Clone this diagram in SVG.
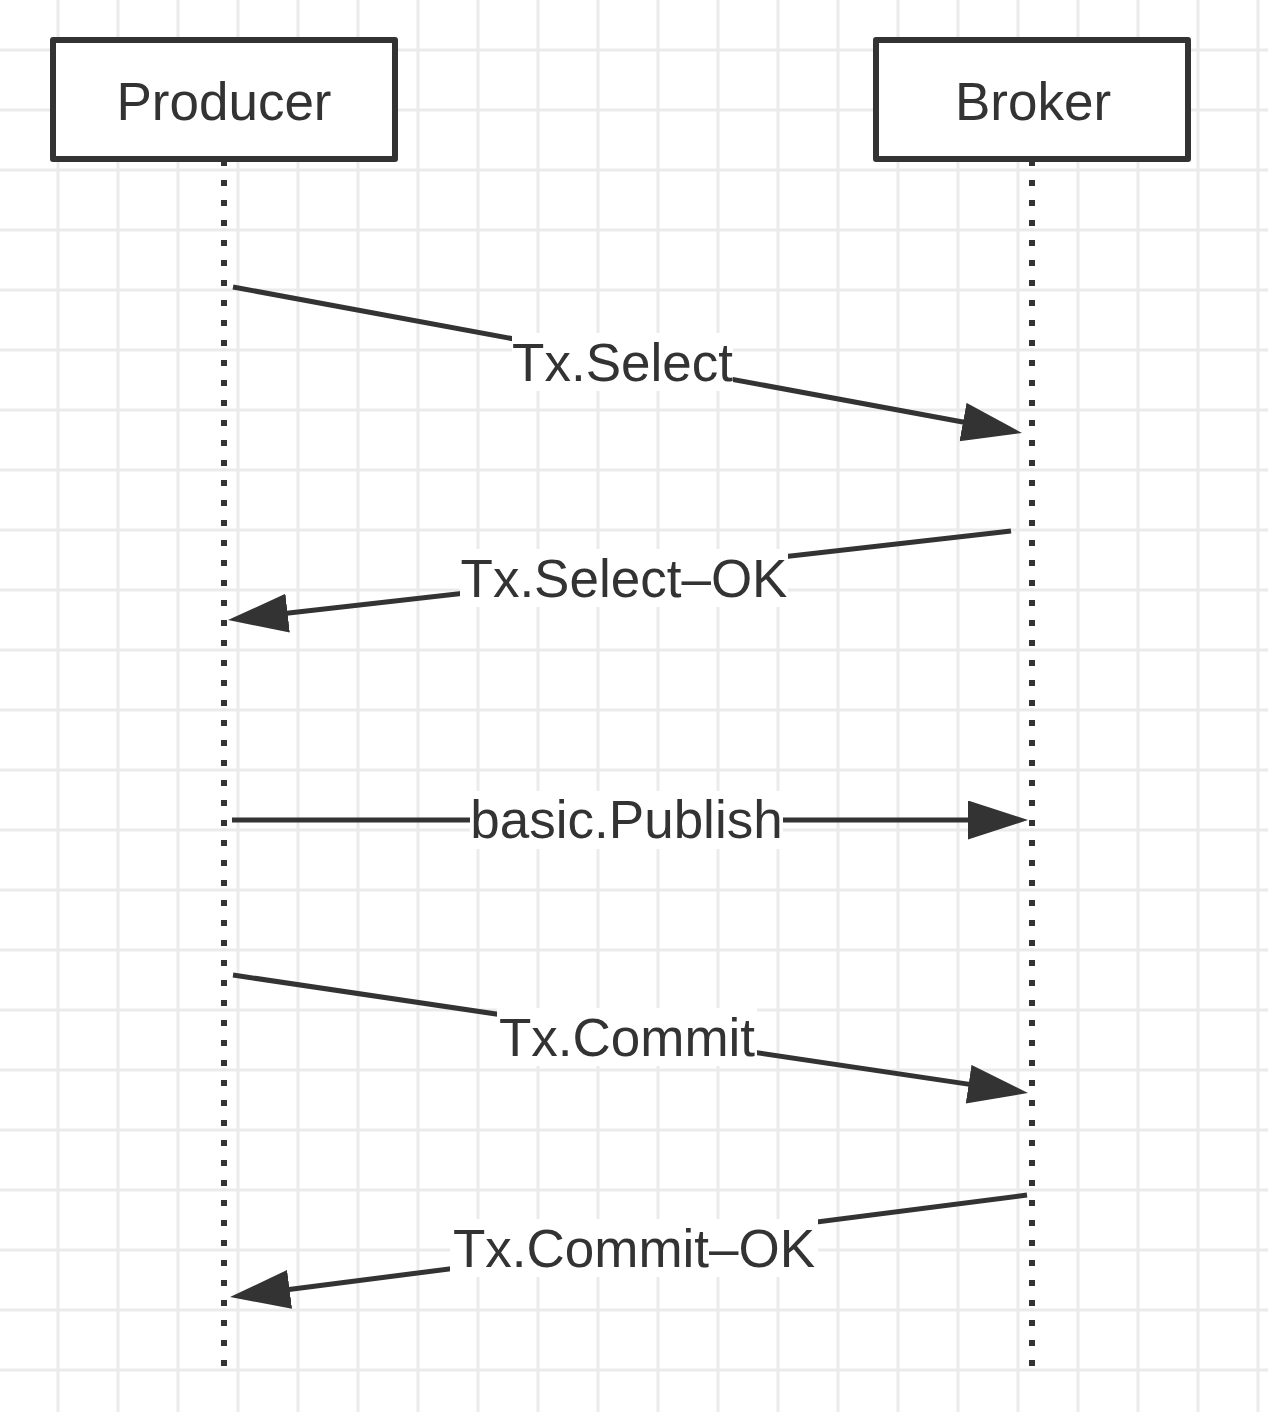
<svg xmlns="http://www.w3.org/2000/svg" width="1268" height="1412" viewBox="0 0 1268 1412">
<style>
.grid line{stroke:#ebebeb;stroke-width:3}
.box{fill:#fff;stroke:#333;stroke-width:6;stroke-linejoin:round}
.life{stroke:#333;stroke-width:6;stroke-dasharray:6 14}
.msg{stroke:#333;stroke-width:5;fill:none}
.t{font-family:"Liberation Sans",Arial,sans-serif;font-size:53px;fill:#333;text-anchor:middle}
.bg{fill:#fff}
</style>
<defs>
<marker id="ah" markerUnits="userSpaceOnUse" markerWidth="62" markerHeight="42" refX="30" refY="19.5" orient="auto" viewBox="0 0 62 42">
<path d="M0,0 L60,19.5 L0,39 z" fill="#333"/>
</marker>
</defs>
<rect width="1268" height="1412" fill="#fff"/>
<g class="grid">
<line x1="58" y1="0" x2="58" y2="1412"/><line x1="118" y1="0" x2="118" y2="1412"/><line x1="178" y1="0" x2="178" y2="1412"/><line x1="238" y1="0" x2="238" y2="1412"/><line x1="298" y1="0" x2="298" y2="1412"/><line x1="358" y1="0" x2="358" y2="1412"/><line x1="418" y1="0" x2="418" y2="1412"/><line x1="478" y1="0" x2="478" y2="1412"/><line x1="538" y1="0" x2="538" y2="1412"/><line x1="598" y1="0" x2="598" y2="1412"/><line x1="658" y1="0" x2="658" y2="1412"/><line x1="718" y1="0" x2="718" y2="1412"/><line x1="778" y1="0" x2="778" y2="1412"/><line x1="838" y1="0" x2="838" y2="1412"/><line x1="898" y1="0" x2="898" y2="1412"/><line x1="958" y1="0" x2="958" y2="1412"/><line x1="1018" y1="0" x2="1018" y2="1412"/><line x1="1078" y1="0" x2="1078" y2="1412"/><line x1="1138" y1="0" x2="1138" y2="1412"/><line x1="1198" y1="0" x2="1198" y2="1412"/><line x1="1258" y1="0" x2="1258" y2="1412"/>
<line x1="0" y1="50" x2="1268" y2="50"/><line x1="0" y1="110" x2="1268" y2="110"/><line x1="0" y1="170" x2="1268" y2="170"/><line x1="0" y1="230" x2="1268" y2="230"/><line x1="0" y1="290" x2="1268" y2="290"/><line x1="0" y1="350" x2="1268" y2="350"/><line x1="0" y1="410" x2="1268" y2="410"/><line x1="0" y1="470" x2="1268" y2="470"/><line x1="0" y1="530" x2="1268" y2="530"/><line x1="0" y1="590" x2="1268" y2="590"/><line x1="0" y1="650" x2="1268" y2="650"/><line x1="0" y1="710" x2="1268" y2="710"/><line x1="0" y1="770" x2="1268" y2="770"/><line x1="0" y1="830" x2="1268" y2="830"/><line x1="0" y1="890" x2="1268" y2="890"/><line x1="0" y1="950" x2="1268" y2="950"/><line x1="0" y1="1010" x2="1268" y2="1010"/><line x1="0" y1="1070" x2="1268" y2="1070"/><line x1="0" y1="1130" x2="1268" y2="1130"/><line x1="0" y1="1190" x2="1268" y2="1190"/><line x1="0" y1="1250" x2="1268" y2="1250"/><line x1="0" y1="1310" x2="1268" y2="1310"/><line x1="0" y1="1370" x2="1268" y2="1370"/>
</g>
<g id="lifelines">
<line class="life" x1="224" y1="160" x2="224" y2="1368"/>
<line class="life" x1="1032" y1="160" x2="1032" y2="1368"/>
</g>
<g id="producer">
<rect class="box" x="53" y="40" width="342" height="119"/>
<text class="t" x="224" y="120">Producer</text>
</g>
<g id="broker">
<rect class="box" x="876" y="40" width="312" height="119"/>
<text class="t" x="1033" y="120">Broker</text>
</g>
<g id="connectors">
<line class="msg" x1="233" y1="287" x2="992.5" y2="427.5" marker-end="url(#ah)"/>
<line class="msg" x1="1011" y1="531" x2="257.8" y2="616.6" marker-end="url(#ah)"/>
<line class="msg" x1="232" y1="820" x2="998" y2="820" marker-end="url(#ah)"/>
<line class="msg" x1="233" y1="975" x2="998.3" y2="1088.6" marker-end="url(#ah)"/>
<line class="msg" x1="1027" y1="1195" x2="259.8" y2="1293.2" marker-end="url(#ah)"/>
<g id="labels">
<rect class="bg" x="512" y="333" width="221" height="58"/>
<text class="t" x="622.5" y="381">Tx.Select</text>
<rect class="bg" x="460" y="549" width="328" height="58"/>
<text class="t" x="624" y="597">Tx.Select–OK</text>
<rect class="bg" x="470" y="791" width="313" height="58"/>
<text class="t" x="626.5" y="838">basic.Publish</text>
<rect class="bg" x="497" y="1008" width="260" height="58"/>
<text class="t" x="627" y="1056">Tx.Commit</text>
<rect class="bg" x="450" y="1219" width="368" height="58"/>
<text class="t" x="634" y="1267">Tx.Commit–OK</text>
</g>
</g>
</svg>
